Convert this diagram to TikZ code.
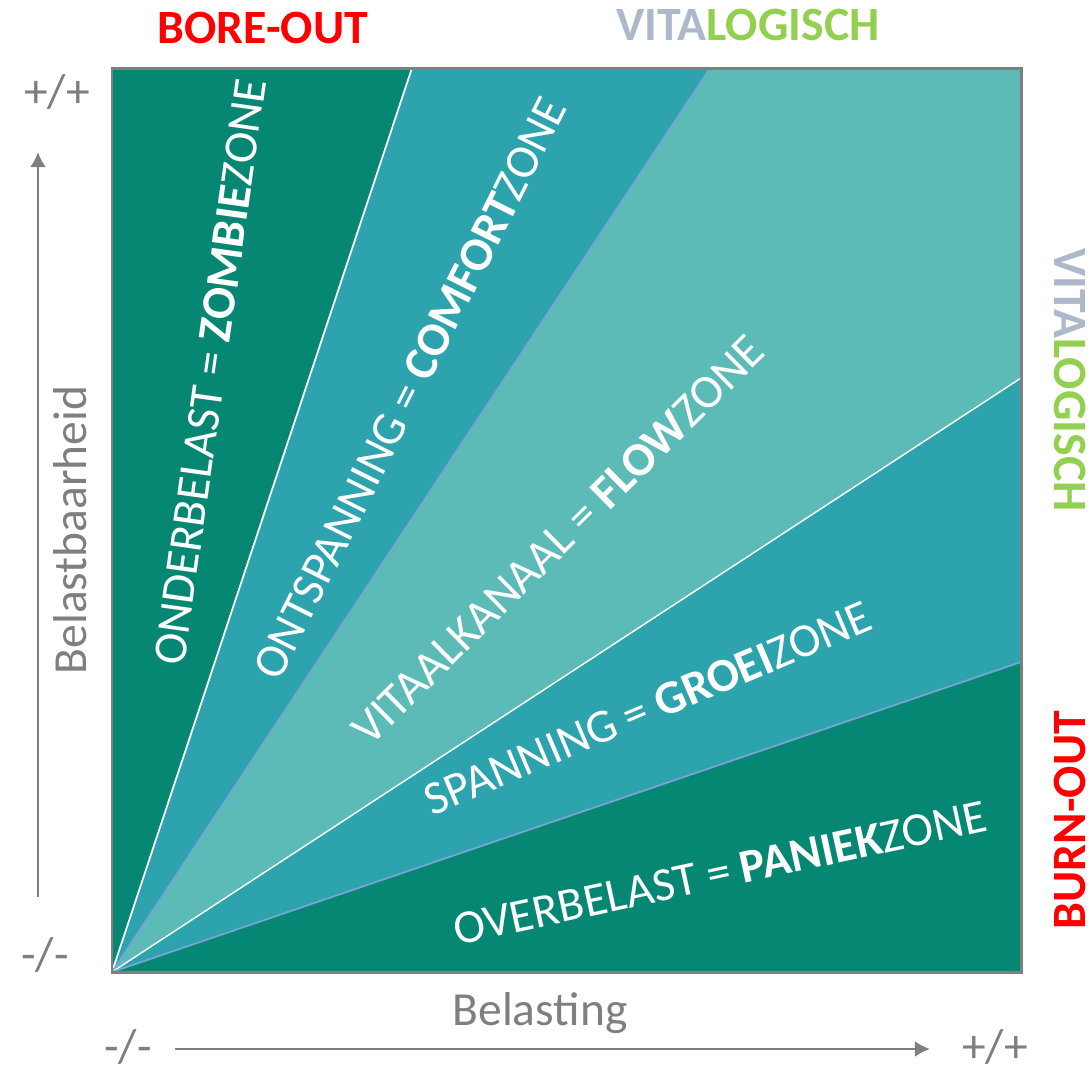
\documentclass[tikz,border=0pt]{standalone}
\usepackage{fontspec}
\setmainfont{Carlito}
\usepackage{xcolor}
\usepackage{tikz}
\usetikzlibrary{arrows.meta}
\tikzset{>={Latex[length=4.3pt,width=4.6pt]}}
\definecolor{zonedark}{HTML}{068773}
\definecolor{zonemid}{HTML}{2CA3AD}
\definecolor{zonelight}{HTML}{5DBBB7}
\definecolor{edgeblue}{HTML}{7BA3D6}
\definecolor{axisgray}{HTML}{7F7F7F}
\definecolor{vitagray}{HTML}{ADB9CA}
\definecolor{logigreen}{HTML}{92D050}
\tikzset{
  zonetext/.style={text=white, font=\fontsize{13.5}{16}\selectfont},
  axistext/.style={text=axisgray, font=\fontsize{13.5}{16}\selectfont},
  headtext/.style={font=\fontsize{13.6}{16}\selectfont\bfseries},
  axisline/.style={axisgray, line width=0.8pt, ->},
}

\begin{document}
\begin{tikzpicture}[x=0.01cm, y=-0.01cm]
  \useasboundingbox (0,0) rectangle (1091,1066);
  \coordinate (O) at (112,972);
  % the five zones, fanned out from the origin
  \fill[zonedark] (O) -- (112,68) -- (412,68) -- cycle;
  \fill[zonemid] (O) -- (412,68) -- (710,68) -- cycle;
  \fill[zonelight] (O) -- (710,68) -- (1021,68) -- (1021,378) -- cycle;
  \fill[zonemid] (O) -- (1021,378) -- (1021,662) -- cycle;
  \fill[zonedark] (O) -- (1021,662) -- (1021,972) -- cycle;
  \draw[white, line width=0.5pt] (O) -- (412,68);
  \draw[edgeblue, line width=0.5pt] (O) -- (710,68);
  \draw[white, line width=0.4pt] (O) -- (1021,378);
  \draw[edgeblue, line width=0.5pt] (O) -- (1021,662);
  \draw[axisgray, line width=0.85pt] (112,68) rectangle (1021,972);

  \node[zonetext, rotate=82] (zombie) at (210,372) {ONDERBELAST = \textbf{ZOMBIE}ZONE};
  \node[zonetext, rotate=63.4] (comfort) at (410,388) {ONTSPANNING = \textbf{COMFORT}ZONE};
  \node[zonetext, rotate=44.7] (flow) at (558,540) {VITAALKANAAL = \textbf{FLOW}ZONE};
  \node[zonetext, rotate=23] (groei) at (648,708) {SPANNING = \textbf{GROEI}ZONE};
  \node[zonetext, rotate=12.2] (paniek) at (720,873) {OVERBELAST = \textbf{PANIEK}ZONE};

  % headings round the square
  \node[headtext, text=red] (boreout) at (263,28) {BORE-OUT};
  \node[headtext] (vitatop) at (748,25) {\textcolor{vitagray}{VITA}\textcolor{logigreen}{LOGISCH}};
  \node[headtext, rotate=-90] (vitaright) at (1070,380) {\textcolor{vitagray}{VITA}\textcolor{logigreen}{LOGISCH}};
  \node[headtext, text=red, rotate=90] (burnout) at (1070,820) {BURN-OUT};

  % axes
  \node[axistext, rotate=90] (ylabel) at (70,530) {Belastbaarheid};
  \node[axistext] (xlabel) at (540,1013) {Belasting};
  \node[axistext] (yhigh) at (57,92) {+/+};
  \node[axistext] (ylow) at (45,955) {-/-};
  \node[axistext] (xlow) at (128,1047) {-/-};
  \node[axistext] (xhigh) at (995,1047) {+/+};
  \coordinate (ystart) at (38,897);
  \coordinate (yend) at (38,152);
  \coordinate (xstart) at (175,1049);
  \coordinate (xend) at (930,1049);
  \draw[axisline] (ystart) -- (yend);
  \draw[axisline] (xstart) -- (xend);
\end{tikzpicture}
\end{document}
